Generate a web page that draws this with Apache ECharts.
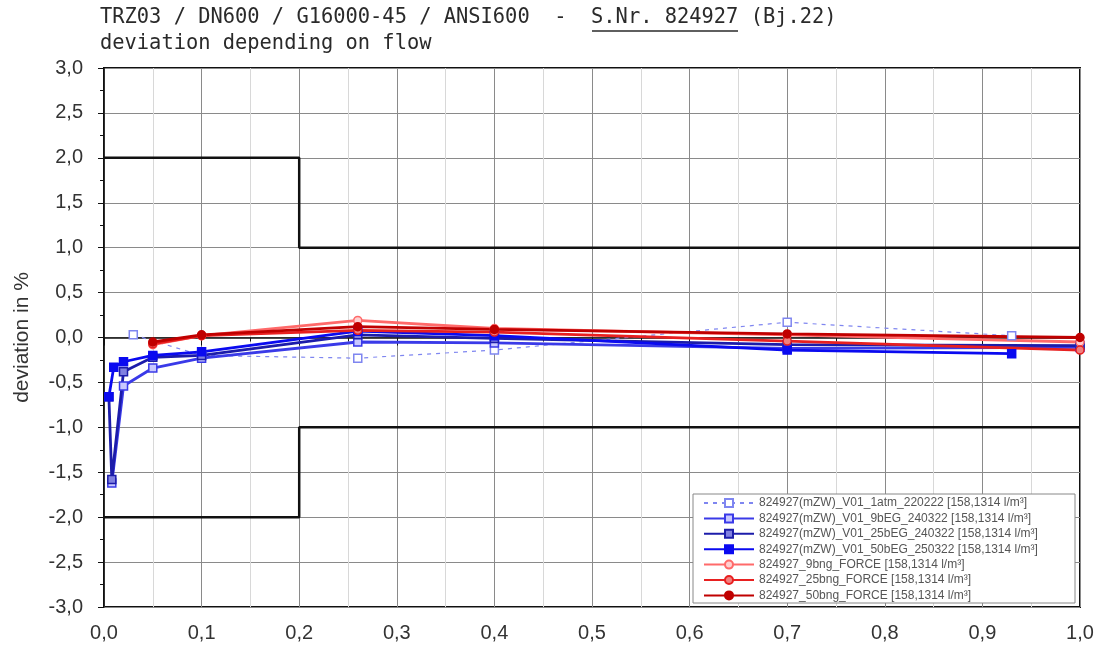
<!DOCTYPE html>
<html>
<head>
<meta charset="utf-8">
<script src="https://cdn.jsdelivr.net/npm/echarts@6/dist/echarts.min.js"></script>
<style>
  html, body { margin: 0; padding: 0; background: #fff; }
  #chart { width: 1098px; height: 649px; }
</style>
</head>
<body>
<div id="chart"></div>
<script>
// tolerance limits (flow, deviation)
const limitUpper = [[0, 2], [0.2, 2], [0.2, 1], [1, 1]];
const limitLower = [[0, -2], [0.2, -2], [0.2, -1], [1, -1]];

// measured points: [flow, deviation %]
const atm1_220222 = [[0.03, 0.03], [0.1, -0.2], [0.26, -0.23], [0.4, -0.14], [0.7, 0.17], [0.93, 0.02]];
const bEG9_240322 = [[0.008, -1.62], [0.02, -0.54], [0.05, -0.34], [0.1, -0.23], [0.26, -0.05], [0.4, -0.06], [0.7, -0.12], [1.0, -0.11]];
const bEG25_240322 = [[0.005, -0.66], [0.008, -1.58], [0.02, -0.38], [0.05, -0.22], [0.1, -0.2], [0.26, 0.03], [0.4, -0.01], [0.7, -0.08], [1.0, -0.09]];
const bEG50_250322 = [[0.005, -0.66], [0.01, -0.33], [0.02, -0.27], [0.05, -0.2], [0.1, -0.16], [0.26, 0.07], [0.4, 0.02], [0.7, -0.14], [0.93, -0.18]];
const bng9_force = [[0.05, -0.08], [0.1, 0.02], [0.26, 0.19], [0.4, 0.1], [0.7, 0.03], [1.0, -0.05]];
const bng25_force = [[0.05, -0.07], [0.1, 0.02], [0.26, 0.08], [0.4, 0.06], [0.7, -0.04], [1.0, -0.14]];
const bng50_force = [[0.05, -0.05], [0.1, 0.03], [0.26, 0.12], [0.4, 0.09], [0.7, 0.04], [1.0, 0.0]];

const names = [
  "824927(mZW)_V01_1atm_220222 [158,1314 l/m³]",
  "824927(mZW)_V01_9bEG_240322 [158,1314 l/m³]",
  "824927(mZW)_V01_25bEG_240322 [158,1314 l/m³]",
  "824927(mZW)_V01_50bEG_250322 [158,1314 l/m³]",
  "824927_9bng_FORCE [158,1314 l/m³]",
  "824927_25bng_FORCE [158,1314 l/m³]",
  "824927_50bng_FORCE [158,1314 l/m³]"
];

const comma = v => v.toFixed(1).replace(".", ",");

function measured(name, data, color, symbol, fill, dashed) {
  return {
    name: name,
    type: "line",
    data: data,
    symbol: symbol,
    symbolSize: 8,
    z: 3,
    lineStyle: { color: color, width: dashed ? 1.2 : 2.8, type: dashed ? [4, 5] : "solid" },
    itemStyle: { color: fill, borderColor: color, borderWidth: 1.5 }
  };
}

function limit(data) {
  return {
    type: "line",
    data: data,
    symbol: "none",
    silent: true,
    z: 2,
    lineStyle: { color: "#111", width: 2.5 }
  };
}

let myChart = echarts.init(document.getElementById("chart"));
let option = {
  animation: false,
  backgroundColor: "#fff",
  grid: {
    left: 104,
    right: 18,
    top: 68,
    bottom: 42,
    show: true,
    borderColor: "#111",
    borderWidth: 2
  },
  graphic: [
    {
      type: "text", left: 100, top: 8, z: 100,
      style: { text: "TRZ03 / DN600 / G16000-45 / ANSI600  -  S.Nr. 824927 (Bj.22)", font: "20.4px 'DejaVu Sans Mono'", fill: "#2a2a2a" }
    },
    {
      type: "text", left: 100, top: 34, z: 100,
      style: { text: "deviation depending on flow", font: "20.4px 'DejaVu Sans Mono'", fill: "#2a2a2a" }
    },
    {
      type: "line", z: 100,
      shape: { x1: 592, y1: 31, x2: 738, y2: 31 },
      style: { stroke: "#2a2a2a", lineWidth: 1.5 }
    },
    {
      type: "rect", z: 100,
      shape: { x: 693, y: 494, width: 382, height: 109 },
      style: { fill: "#fff", stroke: "#888", lineWidth: 1 }
    }
  ],
  legend: {
    z: 110,
    orient: "vertical",
    left: 703,
    top: 497,
    itemWidth: 50,
    itemHeight: 10,
    itemGap: 3.4,
    padding: 0,
    textStyle: { fontFamily: "Liberation Sans", fontSize: 12, color: "#555" },
    data: names
  },
  xAxis: {
    type: "value",
    min: 0,
    max: 1,
    interval: 0.1,
    axisLine: { lineStyle: { color: "#111", width: 1.5 } },
    axisTick: { length: 8, lineStyle: { color: "#111" } },
    minorTick: { show: true, splitNumber: 2, length: 4, lineStyle: { color: "#111" } },
    splitLine: { show: true, lineStyle: { color: "#8a8a8a", width: 1 } },
    minorSplitLine: { show: true, lineStyle: { color: "#d8d8d8", width: 1 } },
    axisLabel: { formatter: comma, color: "#333", fontFamily: "Liberation Sans", fontSize: 20, margin: 16 }
  },
  yAxis: {
    type: "value",
    min: -3,
    max: 3,
    interval: 0.5,
    name: "deviation in %",
    nameLocation: "middle",
    nameGap: 71,
    nameTextStyle: { color: "#333", fontFamily: "Liberation Sans", fontSize: 21 },
    axisLine: { show: true, lineStyle: { color: "#111", width: 1.5 } },
    axisTick: { length: 6, lineStyle: { color: "#111" } },
    minorTick: { show: true, splitNumber: 2, length: 4, lineStyle: { color: "#111" } },
    splitLine: { show: true, lineStyle: { color: "#8a8a8a", width: 1 } },
    axisLabel: { formatter: comma, color: "#333", fontFamily: "Liberation Sans", fontSize: 20, margin: 21 }
  },
  series: [
    limit(limitUpper),
    limit(limitLower),
    measured(names[0], atm1_220222, "#7f86f0", "rect", "#fff", true),
    measured(names[1], bEG9_240322, "#3a3ae8", "rect", "#c8c8ff", false),
    measured(names[2], bEG25_240322, "#1c1caa", "rect", "#8080e0", false),
    measured(names[3], bEG50_250322, "#0a0af0", "rect", "#0a0af0", false),
    measured(names[4], bng9_force, "#ff6a6a", "circle", "#ffd0d0", false),
    measured(names[5], bng25_force, "#e82020", "circle", "#f08080", false),
    measured(names[6], bng50_force, "#c00000", "circle", "#c00000", false)
  ]
};
myChart.setOption(option);
</script>
</body>
</html>
